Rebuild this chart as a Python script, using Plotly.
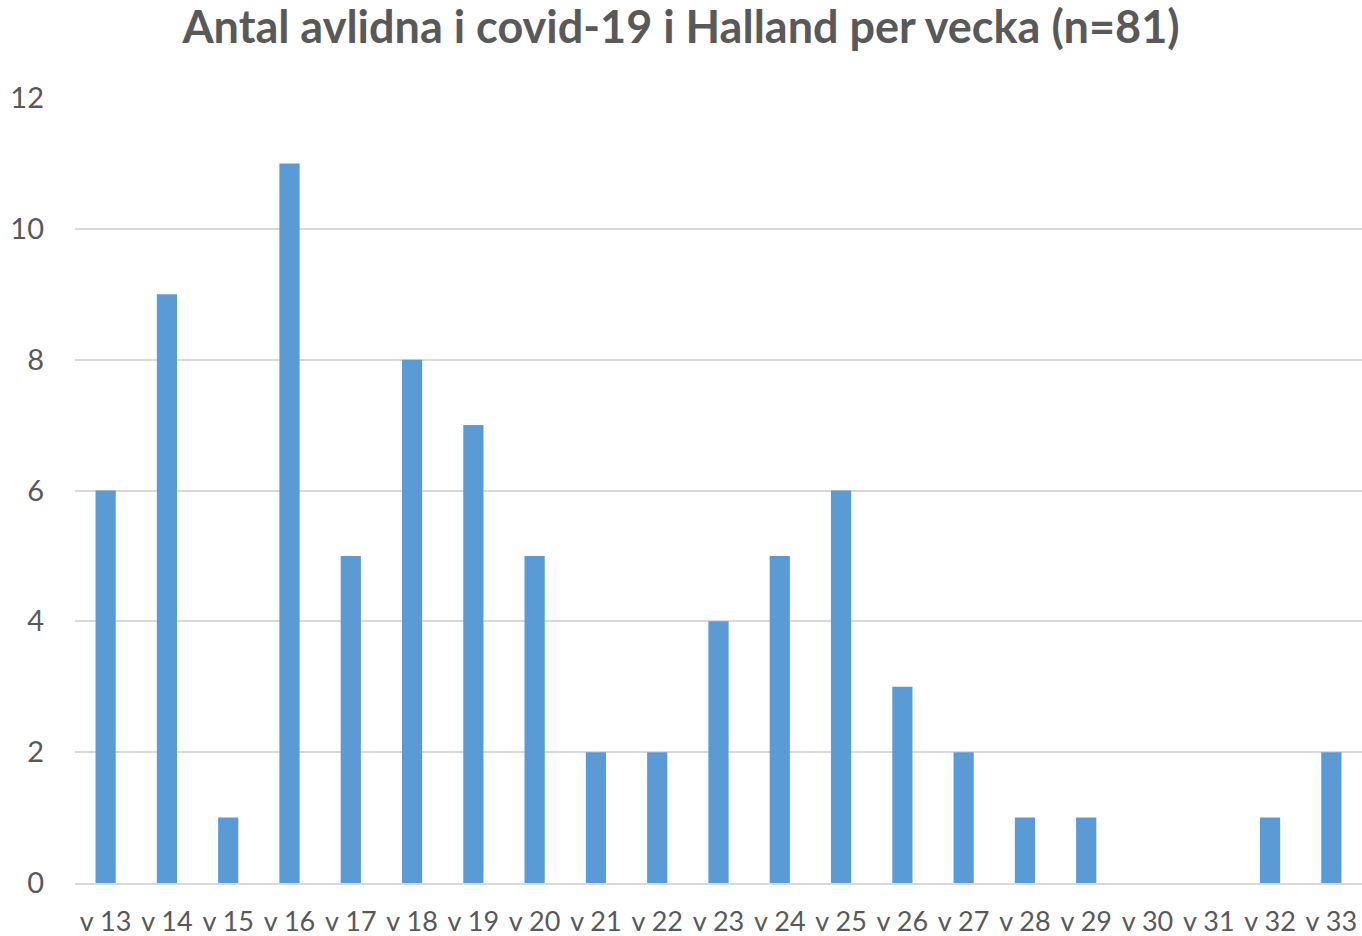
import plotly.graph_objects as go

weeks = ["v 13", "v 14", "v 15", "v 16", "v 17", "v 18", "v 19", "v 20", "v 21", "v 22",
         "v 23", "v 24", "v 25", "v 26", "v 27", "v 28", "v 29", "v 30", "v 31", "v 32", "v 33"]
deaths = [6, 9, 1, 11, 5, 8, 7, 5, 2, 2, 4, 5, 6, 3, 2, 1, 1, 0, 0, 1, 2]
y_ticks = [0, 2, 4, 6, 8, 10, 12]
title_text = "Antal avlidna i covid-19 i Halland per vecka (n=81)"

fig = go.Figure(go.Bar(x=weeks, y=deaths, marker=dict(color="#5B9BD5", line=dict(width=0))))

fig.update_layout(
    width=1362, height=936,
    paper_bgcolor="white", plot_bgcolor="white",
    margin=dict(l=75, r=0, t=98, b=53, autoexpand=False),
    bargap=0.67,
    showlegend=False,
    font=dict(family="Lato", color="#595959"),
    title=dict(text="<b>" + title_text + "</b>", x=0.5, xanchor="center", y=0.971, yanchor="middle",
               font=dict(family="Lato", size=45, color="#595959")),
)
fig.update_xaxes(type="category", showgrid=False, showline=True, linecolor="#D9D9D9", linewidth=2,
                 ticks="", tickfont=dict(size=27, color="#595959"), ticklabelstandoff=14,
                 automargin=False)
fig.update_yaxes(range=[0, 12], tickvals=y_ticks, showgrid=True, gridcolor="#D9D9D9", gridwidth=1.5,
                 zeroline=False, showline=False, ticks="", automargin=False,
                 tickfont=dict(size=29, color="#595959"), ticklabelstandoff=30)

fig.write_html("out.html", config={"displayModeBar": False},
               post_script="document.body.style.margin='0';document.body.style.overflow='hidden';")
